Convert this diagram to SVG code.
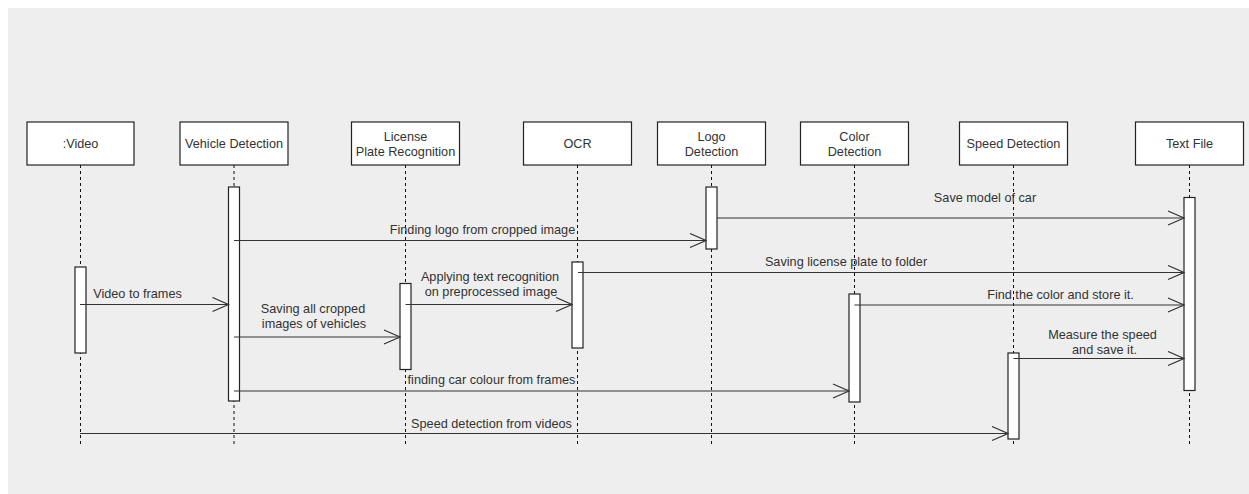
<svg xmlns="http://www.w3.org/2000/svg" width="1249" height="494" viewBox="0 0 1249 494">
<style>
.bg{fill:#eeeeee}
.box{fill:#ffffff;stroke:#222222;stroke-width:1.2}
.act{fill:#ffffff;stroke:#222222;stroke-width:1.2}
.life{stroke:#111111;stroke-width:1;stroke-dasharray:3,3;fill:none}
.msg{stroke:#333333;stroke-width:1.1;fill:none;marker-end:url(#open)}
text{font-family:"Liberation Sans",Arial,Helvetica,sans-serif;font-size:12.7px;fill:#333333;text-anchor:middle}
</style>
<defs>
<marker id="open" markerUnits="userSpaceOnUse" markerWidth="18" markerHeight="16" refX="16" refY="7" orient="auto" viewBox="-1 -1 18 16">
<path d="M0,0 L16,7 L0,14" fill="none" stroke="#333333" stroke-width="1.2"/>
</marker>
</defs>
<rect class="bg" x="8" y="8" width="1241" height="486"/>

<g id="lifelines">
<line class="life" x1="80.5" y1="165" x2="80.5" y2="444"/>
<line class="life" x1="234" y1="165" x2="234" y2="444"/>
<line class="life" x1="405.5" y1="165" x2="405.5" y2="444"/>
<line class="life" x1="577.5" y1="165" x2="577.5" y2="444"/>
<line class="life" x1="711.5" y1="165" x2="711.5" y2="444"/>
<line class="life" x1="854.5" y1="165" x2="854.5" y2="444"/>
<line class="life" x1="1013.5" y1="165" x2="1013.5" y2="444"/>
<line class="life" x1="1189.5" y1="165" x2="1189.5" y2="444"/>
</g>

<g id="video">
<rect class="box" x="27" y="122" width="107" height="43"/>
<text x="80.5" y="148">:Video</text>
<rect class="act" x="75" y="267" width="11" height="86"/>
</g>
<g id="vehicle-detection">
<rect class="box" x="180" y="122" width="108" height="43"/>
<text x="234" y="148">Vehicle Detection</text>
<rect class="act" x="228.5" y="187" width="11" height="214"/>
</g>
<g id="license-plate-recognition">
<rect class="box" x="351.5" y="122" width="108" height="43"/>
<text x="405.5" y="140.5">License</text>
<text x="405.5" y="156">Plate Recognition</text>
<rect class="act" x="400" y="283.5" width="11" height="86"/>
</g>
<g id="ocr">
<rect class="box" x="523.5" y="122" width="108" height="43"/>
<text x="577.5" y="148">OCR</text>
<rect class="act" x="572" y="262" width="11" height="86"/>
</g>
<g id="logo-detection">
<rect class="box" x="657.5" y="122" width="108" height="43"/>
<text x="711.5" y="140.5">Logo</text>
<text x="711.5" y="156">Detection</text>
<rect class="act" x="706" y="187" width="11" height="62"/>
</g>
<g id="color-detection">
<rect class="box" x="800.5" y="122" width="108" height="43"/>
<text x="854.5" y="140.5">Color</text>
<text x="854.5" y="156">Detection</text>
<rect class="act" x="849" y="294" width="11" height="108"/>
</g>
<g id="speed-detection">
<rect class="box" x="959.5" y="122" width="108" height="43"/>
<text x="1013.5" y="148">Speed Detection</text>
<rect class="act" x="1008" y="353" width="11" height="86"/>
</g>
<g id="text-file">
<rect class="box" x="1135.5" y="122" width="108" height="43"/>
<text x="1189.5" y="148">Text File</text>
<rect class="act" x="1184" y="197.5" width="11" height="193"/>
</g>

<g id="connectors">
<line class="msg" x1="717" y1="218" x2="1184" y2="218"/>
<text x="985" y="202">Save model of car</text>

<line class="msg" x1="234" y1="240.5" x2="706" y2="240.5"/>
<text x="482.5" y="234">Finding logo from cropped image</text>

<line class="msg" x1="578" y1="272.5" x2="1184" y2="272.5"/>
<text x="846" y="266">Saving license plate to folder</text>

<line class="msg" x1="80" y1="304.5" x2="228.5" y2="304.5"/>
<text x="137.5" y="298">Video to frames</text>

<line class="msg" x1="405.5" y1="304.5" x2="572" y2="304.5"/>
<text x="490" y="280.5">Applying text recognition</text>
<text x="491" y="295.5">on preprocessed image</text>

<line class="msg" x1="854.5" y1="305" x2="1184" y2="305"/>
<text x="1060.5" y="298.5">Find the color and store it.</text>

<line class="msg" x1="234" y1="337" x2="400" y2="337"/>
<text x="313" y="312.5">Saving all cropped</text>
<text x="314" y="327.5">images of vehicles</text>

<line class="msg" x1="1013.5" y1="358.5" x2="1184" y2="358.5"/>
<text x="1102.5" y="338.5">Measure the speed</text>
<text x="1104.5" y="353.5">and save it.</text>

<line class="msg" x1="234" y1="391" x2="849" y2="391"/>
<text x="491.5" y="384">finding car colour from frames</text>

<line class="msg" x1="80" y1="433.5" x2="1008" y2="433.5"/>
<text x="491.5" y="427.5">Speed detection from videos</text>
</g>
</svg>
